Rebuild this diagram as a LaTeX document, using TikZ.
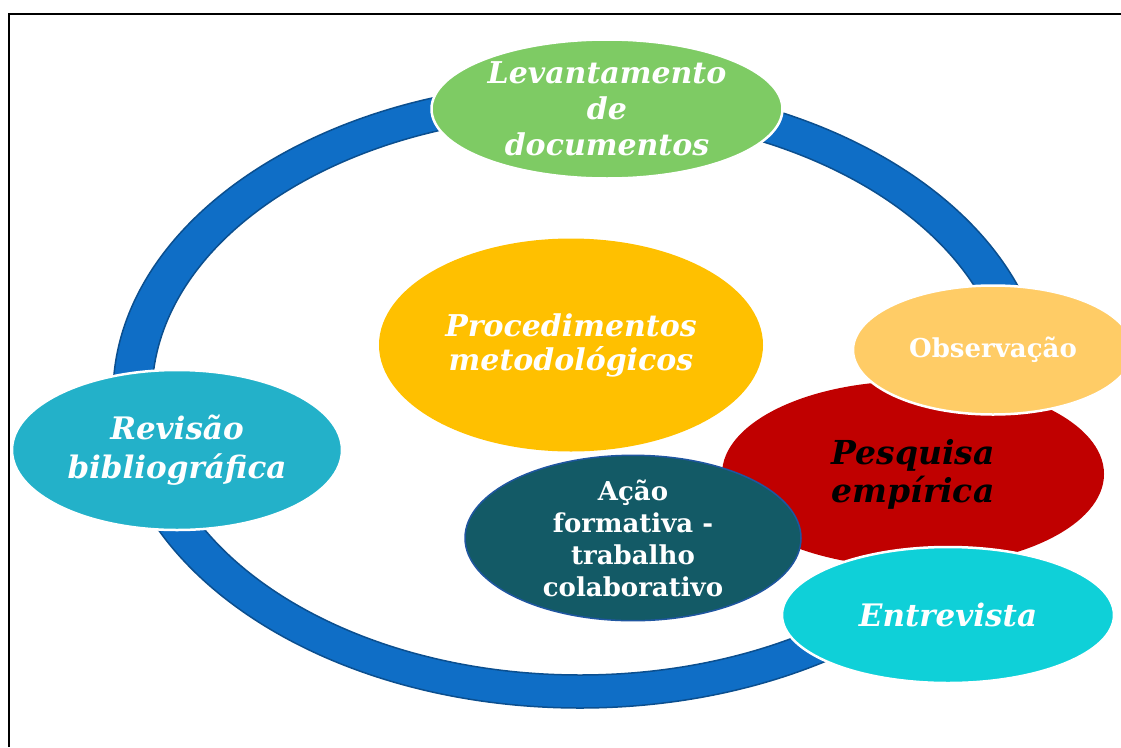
\documentclass[tikz,border=0pt]{standalone}
\usepackage{fontspec}
\setmainfont{DejaVu Serif}
\usetikzlibrary{shapes.geometric}
\definecolor{ringblue}{HTML}{0F6EC6}
\definecolor{ringedge}{HTML}{0B4F8F}
\definecolor{docgreen}{HTML}{7ECB64}
\definecolor{procyellow}{HTML}{FFC000}
\definecolor{obsorange}{HTML}{FFCC66}
\definecolor{empred}{HTML}{C00000}
\definecolor{acaoteal}{HTML}{135A66}
\definecolor{acaoedge}{HTML}{1F56A0}
\definecolor{entcyan}{HTML}{0FD0D8}
\definecolor{revcyan}{HTML}{23B1C9}
\newcommand{\fsize}[2]{\fontsize{#1}{#2}\selectfont}
\tikzset{
  bubble/.style={ellipse, draw=white, line width=2.5pt, inner sep=0pt, align=center,
                 text=white, font=\bfseries\itshape},
  plainbubble/.style={bubble, font=\bfseries},
}

\begin{document}
\begin{tikzpicture}[x=1pt, y=-1pt]
  \useasboundingbox (0,0) rectangle (1121,747);
  % frame
  \draw[line width=2pt] (9,747) -- (9,14) -- (1121,14);

  % blue ring
  \path[fill=ringblue, draw=ringedge, line width=1.5pt, even odd rule]
    (580,395) ellipse [x radius=467pt, y radius=313pt]
    (580,395) ellipse [x radius=428pt, y radius=280pt];

  % centre
  \node[bubble, draw=none, fill=procyellow, minimum width=384pt, minimum height=213pt,
        font=\fsize{30}{34}\bfseries\itshape] (proc) at (571,345)
    {Procedimentos\\metodológicos};

  % empirical research group
  \node[bubble, draw=none, fill=empred, text=black, minimum width=382pt, minimum height=186pt,
        font=\fsize{33}{38}\bfseries\itshape] (emp) at (913,474)
    {Pesquisa\\empírica};
  \node[plainbubble, draw=acaoedge, line width=1.5pt, fill=acaoteal, minimum width=336pt,
        minimum height=154pt, font=\fsize{26}{32}\bfseries] (acao) at (633,538)
    {Ação\\formativa -\\trabalho\\colaborativo};
  \node[plainbubble, fill=obsorange, minimum width=280pt, minimum height=129pt,
        font=\fsize{26}{30}\bfseries] (obs) at (993,350) {Observação};
  \node[bubble, fill=entcyan, minimum width=332pt, minimum height=136pt,
        font=\fsize{31}{36}\bfseries\itshape] (entr) at (948,615) {Entrevista};

  % on the ring
  \node[bubble, fill=docgreen, minimum width=351pt, minimum height=139pt,
        font=\fsize{30}{36}\bfseries\itshape] (doc) at (607,109)
    {Levantamento\\de\\documentos};
  \node[bubble, fill=revcyan, minimum width=330pt, minimum height=160pt,
        font=\fsize{31}{39}\bfseries\itshape] (rev) at (177,450)
    {Revisão\\bibliográfica};
\end{tikzpicture}
\end{document}
